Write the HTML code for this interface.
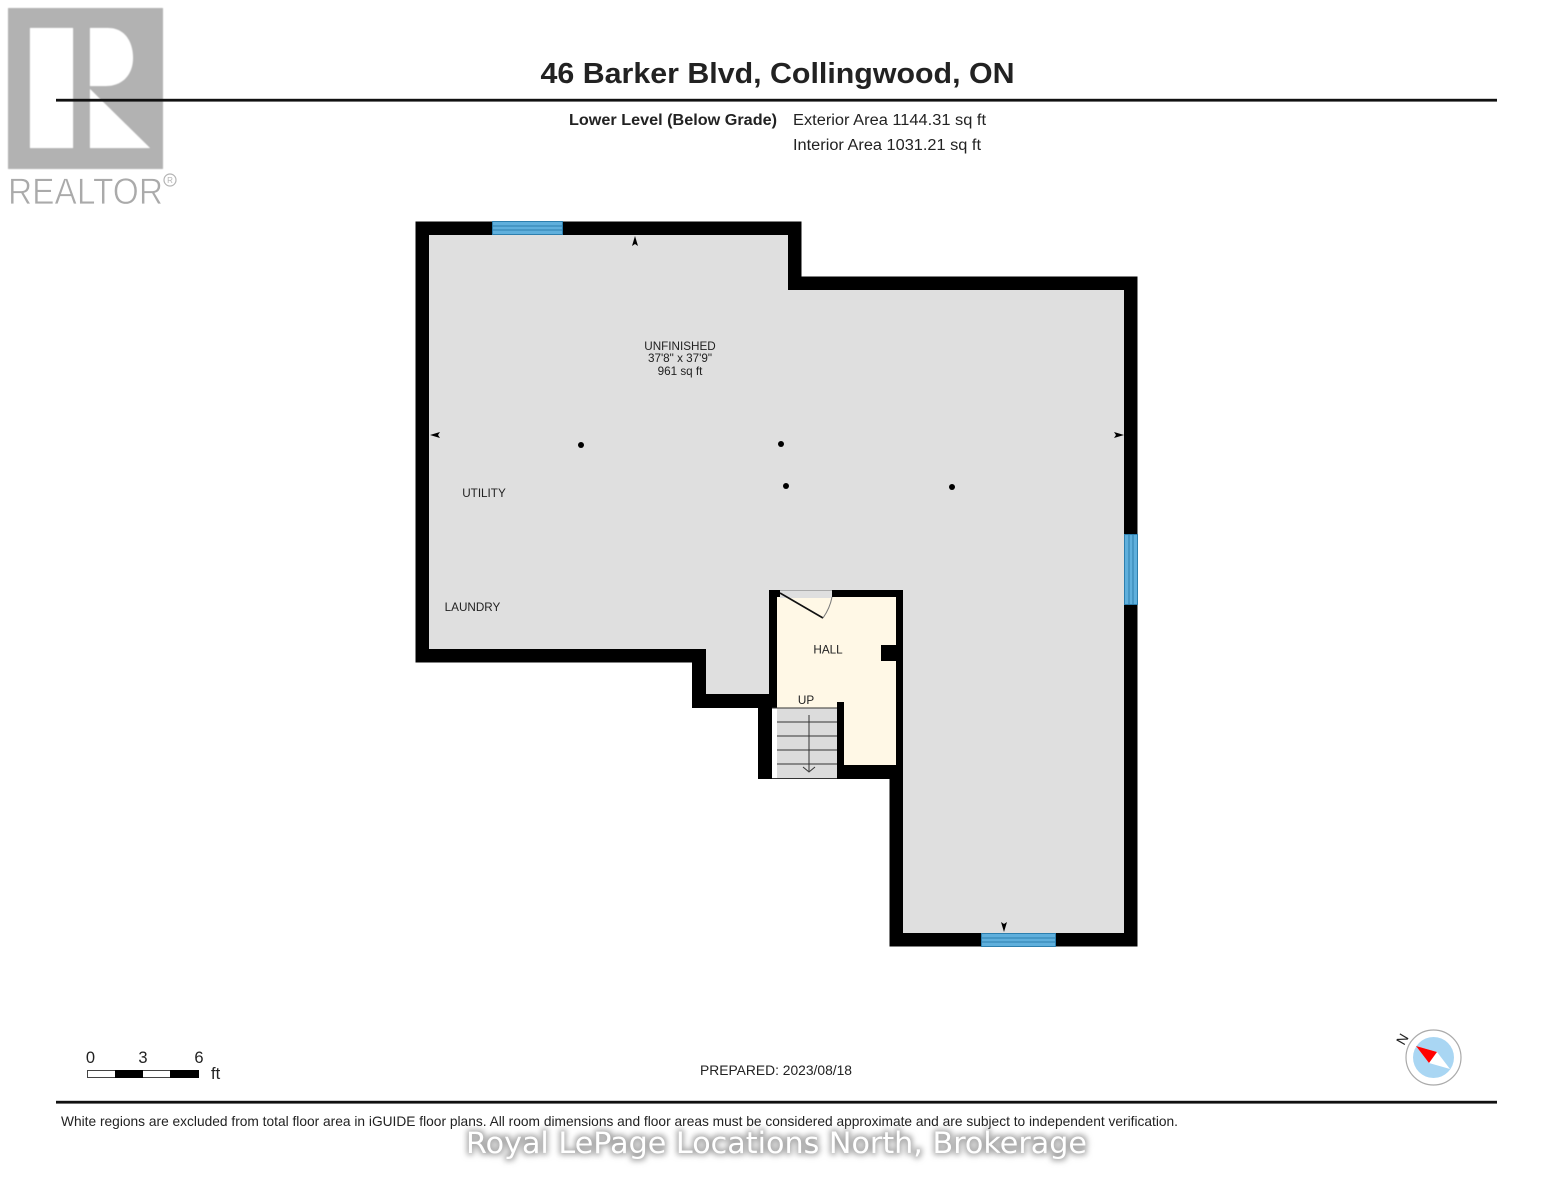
<!DOCTYPE html>
<html><head><meta charset="utf-8"><style>html,body{margin:0;padding:0;background:#fff}svg{display:block}text{font-family:"Liberation Sans",sans-serif;fill:#222}</style></head><body>
<svg width="1553" height="1200" viewBox="0 0 1553 1200" xmlns="http://www.w3.org/2000/svg">
<defs><filter id="b"><feGaussianBlur stdDeviation="0.5"/></filter><filter id="t"><feGaussianBlur stdDeviation="0.3"/></filter><filter id="s" x="-5%" y="-50%" width="110%" height="200%"><feMorphology operator="dilate" radius="2"/><feGaussianBlur stdDeviation="3"/></filter></defs>
<g filter="url(#b)">
<rect x="8" y="8" width="155" height="161" fill="#b2b2b2"/>
<rect x="30" y="28" width="43" height="120" fill="#fff"/>
<path d="M90 28H108C125 28 133 42 133 58C133 74 123 86 106 86H90Z" fill="#fff"/>
<path d="M90 89L150 148H90Z" fill="#fff"/>
</g>
<g filter="url(#t)">
<text x="8" y="204" font-size="37" textLength="155" lengthAdjust="spacingAndGlyphs" stroke="#fff" stroke-width="0.7" style="fill:#aaa">REALTOR</text>
<circle cx="170" cy="180" r="6" fill="none" stroke="#b4b4b4" stroke-width="1.200"/>
<text x="170" y="183" font-size="8" text-anchor="middle" style="fill:#b4b4b4">R</text>
</g>
<rect x="56" y="98.800" width="1441" height="2.800" fill="#111"/>
<g filter="url(#t)">
<text x="777.500" y="83" font-size="29" font-weight="700" text-anchor="middle" textLength="474" lengthAdjust="spacingAndGlyphs">46 Barker Blvd, Collingwood, ON</text>
<text x="569" y="125" font-size="15.500" font-weight="700" textLength="208" lengthAdjust="spacingAndGlyphs">Lower Level (Below Grade)</text>
<text x="793" y="125" font-size="15.500" textLength="193" lengthAdjust="spacingAndGlyphs">Exterior Area 1144.31 sq ft</text>
<text x="793" y="150" font-size="15.500" textLength="188" lengthAdjust="spacingAndGlyphs">Interior Area 1031.21 sq ft</text>
</g>

<path d="M415.500 221.500H801.500V276.500H1137.500V946.500H889.500V779H758V708H692V662.500H415.500Z" fill="#000"/>
<path d="M429 235H788V290H1124V933H903V590H770V694H706V649H429Z" fill="#dfdfdf"/>
<!-- windows -->
<g fill="#5fafdc" stroke="#2d7fae" stroke-width="1">
<rect x="492.500" y="221.500" width="70" height="13"/><path d="M492 226H563M492 230H563" fill="none"/>
<rect x="981.500" y="933.500" width="74" height="13"/><path d="M981 938H1056M981 942H1056" fill="none"/>
<rect x="1124.500" y="534.500" width="13" height="70"/><path d="M1129 534V605M1133 534V605" fill="none"/>
</g>
<!-- hall -->
<rect x="769" y="590" width="134" height="189" fill="#000"/>
<rect x="777" y="597" width="119" height="168" fill="#fff8e6"/>
<rect x="780" y="590" width="52" height="8" fill="#dfdfdf"/>
<path d="M780 590.500H832" stroke="#aaa" stroke-width="1"/>
<path d="M780 593L823 618" stroke="#111" stroke-width="1.600" fill="none"/>
<path d="M823 618Q830 608 832 597" stroke="#777" stroke-width="1" fill="none"/>
<rect x="881" y="645" width="15" height="16" fill="#000"/>
<!-- stairs -->
<rect x="758" y="694" width="19" height="85" fill="#000"/>
<rect x="692" y="694" width="85" height="14" fill="#000"/>
<rect x="772" y="708" width="5" height="71" fill="#fff"/>
<rect x="777" y="708" width="60" height="71" fill="#dcdcdc"/>
<rect x="837" y="702" width="7" height="77" fill="#000"/>
<rect x="837" y="765" width="59" height="14" fill="#000"/>
<rect x="777" y="702" width="60" height="6" fill="#fff8e6"/>
<path d="M772 708H837M772 778.500H837M777 722H837M777 736H837M777 750H837M777 764H837" stroke="#333" stroke-width="1"/>
<path d="M809 715V771" stroke="#333" stroke-width="1" fill="none"/>
<path d="M803 767L809 772L815 767" stroke="#333" stroke-width="1" fill="none"/>

<!-- room labels -->
<g font-size="11.700" filter="url(#t)">
<text x="680" y="350" text-anchor="middle">UNFINISHED</text>
<text x="680" y="362" text-anchor="middle">37'8" x 37'9"</text>
<text x="680" y="375" text-anchor="middle">961 sq ft</text>
<text x="484" y="497" text-anchor="middle">UTILITY</text>
<text x="472.500" y="611" text-anchor="middle">LAUNDRY</text>
<text x="828" y="653.500" text-anchor="middle">HALL</text>
<text x="806" y="704" text-anchor="middle">UP</text>
</g>
<!-- dots -->
<g fill="#000">
<circle cx="581" cy="445" r="3"/><circle cx="781" cy="444" r="3"/><circle cx="786" cy="486" r="3"/><circle cx="952" cy="487" r="3"/>
<path d="M635 236L638 246L635 244L632 246Z"/>
<path d="M430 435L440 432L438 435L440 438Z"/>
<path d="M1124 435L1114 432L1116 435L1114 438Z"/>
<path d="M1004 932L1001 922L1004 924L1007 922Z"/>
</g>

<!-- scale -->
<g font-size="16.500" filter="url(#t)">
<text x="90.500" y="1063" text-anchor="middle">0</text>
<text x="143" y="1063" text-anchor="middle">3</text>
<text x="199" y="1063" text-anchor="middle">6</text>
<text x="211" y="1079">ft</text>
</g>
<rect x="87.500" y="1070.500" width="111" height="7" fill="#fff" stroke="#444" stroke-width="1"/>
<rect x="115" y="1070" width="28" height="8" fill="#000"/>
<rect x="170" y="1070" width="29" height="8" fill="#000"/>
<text x="776" y="1075" font-size="14" text-anchor="middle" textLength="152" lengthAdjust="spacingAndGlyphs" filter="url(#t)">PREPARED: 2023/08/18</text>

<!-- compass -->
<circle cx="1433.500" cy="1057.500" r="27.500" fill="#fff" stroke="#aaa" stroke-width="1.200"/>
<circle cx="1433.500" cy="1057.500" r="20.500" fill="#a9d6f3"/>
<path d="M1416 1046L1437 1052L1450 1069L1429 1063Z" fill="#fff"/>
<path d="M1416 1046L1437 1052L1429 1063Z" fill="#f00"/>
<text x="0" y="0" font-size="14" transform="translate(1404 1046) rotate(-60)" text-anchor="start">N</text>

<rect x="56" y="1100.800" width="1441" height="2.800" fill="#111"/>
<text x="61" y="1126" font-size="14" textLength="1117" lengthAdjust="spacingAndGlyphs" filter="url(#t)">White regions are excluded from total floor area in iGUIDE floor plans. All room dimensions and floor areas must be considered approximate and are subject to independent verification.</text>

<!-- watermark -->
<text x="466" y="1153" font-size="29.500" textLength="621" lengthAdjust="spacingAndGlyphs" filter="url(#s)" style="font-family:'DejaVu Sans',sans-serif;fill:#aaa">Royal LePage Locations North, Brokerage</text>
<text x="466" y="1153" font-size="29.500" textLength="621" lengthAdjust="spacingAndGlyphs" style="font-family:'DejaVu Sans',sans-serif;fill:#fff">Royal LePage Locations North, Brokerage</text>
</svg>
</body></html>
